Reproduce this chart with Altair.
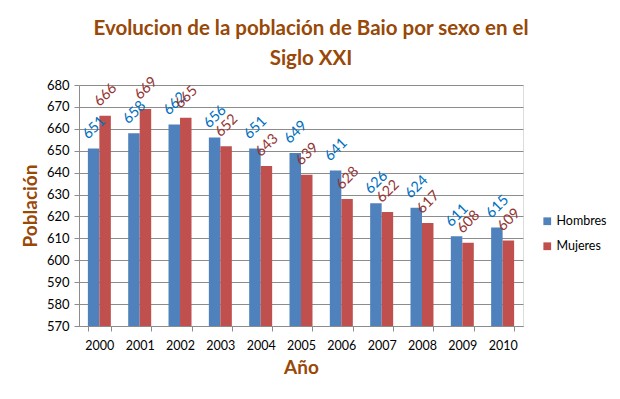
import altair as alt
import pandas as pd

anios = ["2000", "2001", "2002", "2003", "2004", "2005", "2006", "2007", "2008", "2009", "2010"]
hombres = [651, 658, 662, 656, 651, 649, 641, 626, 624, 611, 615]
mujeres = [666, 669, 665, 652, 643, 639, 628, 622, 617, 608, 609]
series = ["Hombres", "Mujeres"]

rows = []
for i, a in enumerate(anios):
    rows.append({"anio": a, "sexo": series[0], "valor": hombres[i]})
    rows.append({"anio": a, "sexo": series[1], "valor": mujeres[i]})
df = pd.DataFrame(rows)

FONT = "Lato"
BROWN = "#984807"
GRID = "#8c8c8c"

x = alt.X("anio:N", title="Año", sort=anios,
          scale=alt.Scale(paddingInner=0.43, paddingOuter=0.22),
          axis=alt.Axis(labelAngle=0, labelFont=FONT, labelFontSize=12.5, labelColor="#000000",
                        labelPadding=8, tickBand="extent", tickSize=5, tickColor=GRID,
                        domainColor=GRID, titleFont=FONT, titleFontSize=19, titleColor=BROWN,
                        titleFontWeight="bold", titlePadding=7, grid=False))
y = alt.Y("valor:Q", title="Población",
          scale=alt.Scale(domain=[570, 680], zero=False, nice=False),
          axis=alt.Axis(values=list(range(570, 681, 10)), labelFont=FONT, labelFontSize=13,
                        labelColor="#000000", labelPadding=5, tickSize=5, tickColor=GRID,
                        domainColor=GRID, gridColor=GRID, gridWidth=1, titleFont=FONT,
                        titleFontSize=19, titleColor=BROWN, titleFontWeight="bold",
                        titlePadding=6))

xo = alt.XOffset("sexo:N", sort=series, scale=alt.Scale(paddingInner=0, paddingOuter=0))

bars = alt.Chart(df).mark_bar(clip=True).encode(
    x=x, y=y, xOffset=xo,
    color=alt.Color("sexo:N", sort=series,
                    scale=alt.Scale(domain=series, range=["#4F81BD", "#C0504D"]),
                    legend=alt.Legend(title=None, orient="none", legendX=462, legendY=130,
                                      symbolType="square", symbolSize=60, symbolStrokeWidth=0,
                                      labelFont=FONT, labelFontSize=12.5, labelColor="#000000",
                                      rowPadding=12, padding=0, labelOffset=3)),
)

labels = alt.Chart(df).mark_text(angle=315, align="center", baseline="middle",
                                 font=FONT, fontSize=14.5, dx=15, dy=-14).encode(
    x=x, y=y, xOffset=xo,
    text=alt.Text("valor:Q"),
    color=alt.condition(alt.datum.sexo == "Hombres", alt.value("#0070C0"), alt.value("#943634")),
)

chart = alt.layer(bars, labels).properties(
    width=444, height=241,
    title=alt.TitleParams(["Evolucion de la población de Baio por sexo en el", "Siglo XXI"],
                          font=FONT, fontSize=20.5, fontWeight="bold", color=BROWN,
                          anchor="middle", offset=5, lineHeight=30, dx=10),
    autosize=alt.AutoSizeParams(type="none"),
    padding={"left": 71, "top": 77, "right": 85, "bottom": 60},
).configure_view(stroke=None).configure(background="white")

chart.save("out.html", embed_options={"renderer": "svg", "actions": False})
